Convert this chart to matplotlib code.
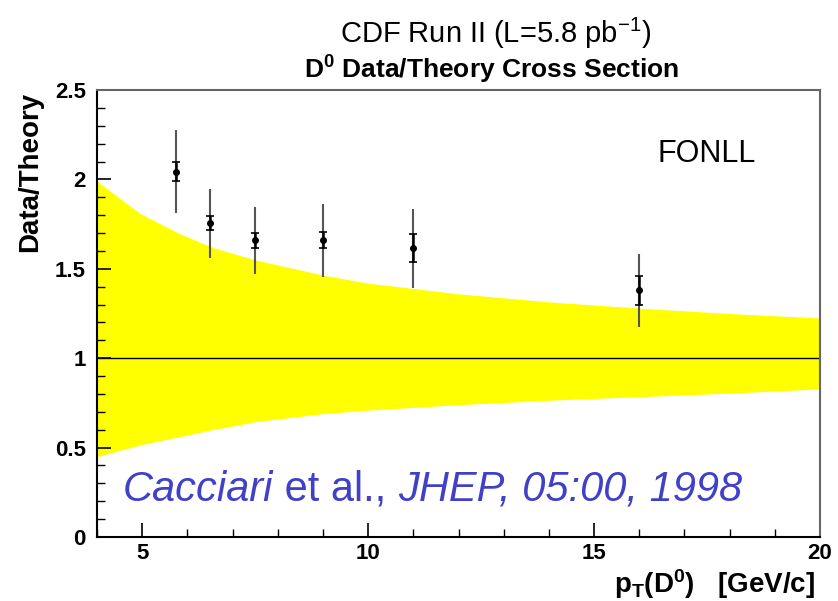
import matplotlib
matplotlib.use("Agg")
import matplotlib.pyplot as plt
from matplotlib.ticker import MultipleLocator
from matplotlib.transforms import offset_copy

plt.rcParams['font.family'] = ['Liberation Sans', 'DejaVu Sans']
plt.rcParams['mathtext.fontset'] = 'custom'
plt.rcParams['mathtext.rm'] = 'Liberation Sans'
plt.rcParams['mathtext.it'] = 'Liberation Sans:italic'
plt.rcParams['mathtext.bf'] = 'Liberation Sans:bold'

# FONLL theory band (ratio to central value)
band_pt = [4.0, 4.95, 5.8, 6.55, 7.5, 9.0, 10.0, 11.0, 12.0, 14.0, 16.0, 18.0, 20.0]
band_hi = [1.99, 1.81, 1.70, 1.62, 1.55, 1.465, 1.42, 1.39, 1.36, 1.315, 1.28, 1.25, 1.225]
band_lo = [0.45, 0.515, 0.56, 0.60, 0.645, 0.69, 0.71, 0.725, 0.74, 0.765, 0.785, 0.805, 0.828]

# D0 data / theory points
pt = [5.75, 6.5, 7.5, 9.0, 11.0, 16.0]
ratio = [2.04, 1.755, 1.66, 1.66, 1.615, 1.38]
stat_up = [0.06, 0.04, 0.04, 0.045, 0.08, 0.08]
stat_dn = [0.05, 0.04, 0.045, 0.045, 0.075, 0.08]
tot_up = [0.235, 0.19, 0.185, 0.205, 0.22, 0.20]
tot_dn = [0.23, 0.195, 0.19, 0.205, 0.22, 0.205]

x_ticks = [5, 10, 15, 20]
y_ticks = [0, 0.5, 1, 1.5, 2, 2.5]
y_tick_labels = ['0', '0.5', '1', '1.5', '2', '2.5']

fig = plt.figure(figsize=(8.38, 6.01), dpi=100)
ax = fig.add_axes([97 / 838, 64 / 601, 723 / 838, 447 / 601])

ax.fill_between(band_pt, band_lo, band_hi, color='#ffff00', lw=0, zorder=1)
ax.axhline(1.0, color='black', lw=1.0, zorder=2)

ax.errorbar(pt, ratio, yerr=[tot_dn, tot_up], fmt='none', ecolor='#555555',
            elinewidth=1.5, capsize=0, zorder=3)
ax.errorbar(pt, ratio, yerr=[stat_dn, stat_up], fmt='o', color='black', ms=4,
            elinewidth=1.8, capsize=3, capthick=1.2, zorder=4)

ax.set_xlim(4, 20)
ax.set_ylim(0, 2.5)
ax.set_xticks(x_ticks)
ax.set_xticklabels([str(v) for v in x_ticks], fontsize=16, fontweight='bold')
ax.set_yticks(y_ticks)
ax.set_yticklabels(y_tick_labels, fontsize=16, fontweight='bold')
ax.xaxis.set_minor_locator(MultipleLocator(1))
ax.yaxis.set_minor_locator(MultipleLocator(0.1))
ax.tick_params(which='both', direction='in', top=False, right=False)
ax.tick_params(which='major', length=10, width=1.2, pad=8)
ax.tick_params(axis='x', which='major', pad=4)
ax.tick_params(which='minor', length=6, width=1.0)
for side in ['top', 'right']:
    ax.spines[side].set_color('#666666')
    ax.spines[side].set_linewidth(1.5)
for side in ['left', 'bottom']:
    ax.spines[side].set_color('black')
    ax.spines[side].set_linewidth(1.5)

ax.text(16.4, 2.14, 'FONLL', fontsize=22, ha='left', va='center')

# citation, pieced together so italics and upright parts sit side by side
renderer = fig.canvas.get_renderer()
pieces = [('Cacciari', 'italic'), (' et al., ', 'normal'), ('JHEP, 05:00, 1998', 'italic')]
trans = ax.transData
x0, y0 = 4.57, 0.263
for txt, style in pieces:
    t = ax.text(x0, y0, txt, fontsize=30, style=style, color='#4040c8',
                ha='left', va='center', transform=trans)
    w = t.get_window_extent(renderer=renderer).width
    trans = offset_copy(trans, fig=fig, x=w, y=0, units='dots')

fig.text(496 / 838, 1 - 33 / 601, r'CDF Run II (L=5.8 pb$^{\mathrm{-1}}$)',
         fontsize=21, ha='center', va='center')
fig.text(492 / 838, 1 - 70 / 601, r'D$^{\mathbf{0}}$ Data/Theory Cross Section',
         fontsize=19, fontweight='bold', ha='center', va='center')
fig.text(30 / 838, 1 - 92 / 601, 'Data/Theory', fontsize=20, fontweight='bold',
         rotation=90, ha='center', va='top')
fig.text(815 / 838, 1 - 584 / 601, r'$\mathbf{p_T(D^0)}$   [GeV/c]',
         fontsize=20, fontweight='bold', ha='right', va='center')

fig.savefig('out.png', dpi=100)
